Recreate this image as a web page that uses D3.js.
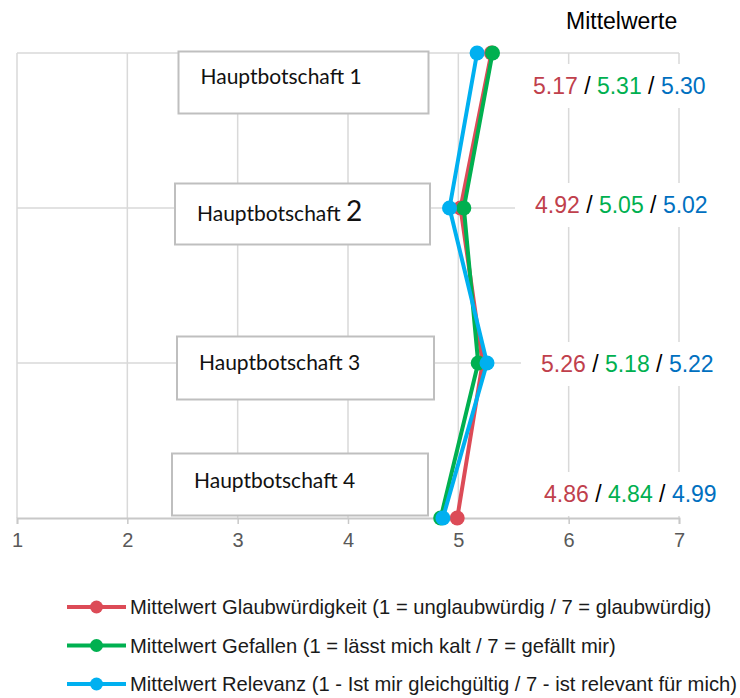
<!DOCTYPE html>
<html>
<head>
<meta charset="utf-8">
<script src="https://cdn.jsdelivr.net/npm/d3@7"></script>
<style>
  html, body { margin: 0; padding: 0; background: #ffffff; }
  svg { display: block; }
</style>
</head>
<body>
<svg id="chart" width="740" height="698"></svg>
<script>
// Messages rated on a 1–7 scale
const categories = ["Hauptbotschaft 1", "Hauptbotschaft 2", "Hauptbotschaft 3", "Hauptbotschaft 4"];
const glaubwuerdigkeit = [5.30, 5.02, 5.22, 4.99];
const gefallen = [5.31, 5.05, 5.18, 4.84];
const relevanz = [5.17, 4.92, 5.26, 4.86];
const xTicks = [1, 2, 3, 4, 5, 6, 7];

const seriesNames = [
  "Mittelwert Glaubwürdigkeit (1 = unglaubwürdig / 7 = glaubwürdig)",
  "Mittelwert Gefallen (1 = lässt mich kalt / 7 = gefällt mir)",
  "Mittelwert Relevanz (1 - Ist mir gleichgültig / 7 - ist relevant für mich)"
];
const headerText = "Mittelwerte";

// line colours and value-label colours
const lineColors = ["#dc4b57", "#00b050", "#00b0f0"];
const labelColors = ["#c0404c", "#00b050", "#0070c0"];

const series = [
  { name: seriesNames[0], values: glaubwuerdigkeit, color: lineColors[0] },
  { name: seriesNames[1], values: gefallen, color: lineColors[1] },
  { name: seriesNames[2], values: relevanz, color: lineColors[2] }
];

// value labels list the three means per message (order as printed)
const labelParts = [
  { values: relevanz, color: labelColors[0] },
  { values: gefallen, color: labelColors[1] },
  { values: glaubwuerdigkeit, color: labelColors[2] }
];

// layout of the callout boxes and value labels, relative to each row
const boxLayout = [
  { x: 178.5, dy: -1.5, w: 250, h: 62, tx: 22, ty: 32 },
  { x: 175, dy: -24.5, w: 255, h: 61, tx: 22, ty: 37 },
  { x: 177, dy: -26.5, w: 257, h: 63, tx: 22, ty: 33 },
  { x: 172, dy: -64.5, w: 256, h: 62, tx: 22, ty: 34 }
];
const valueLayout = [
  { x: 533, dy: 41 },
  { x: 535, dy: 5 },
  { x: 541, dy: 9 },
  { x: 544, dy: -16 }
];

const svg = d3.select("#chart");
const plotLeft = 17, plotRight = 679, plotTop = 53, plotBottom = 518;

const x = d3.scaleLinear().domain([1, 7]).range([plotLeft, plotRight]);
const y = d3.scalePoint().domain(categories).range([plotTop, plotBottom]);

const gridColor = "#d9d9d9";

// vertical grid
svg.append("g").selectAll("line").data(xTicks).join("line")
  .attr("x1", d => x(d)).attr("x2", d => x(d))
  .attr("y1", plotTop).attr("y2", plotBottom)
  .attr("stroke", gridColor).attr("stroke-width", 1.5);

// horizontal grid
svg.append("g").selectAll("line").data(categories.slice(0, -1)).join("line")
  .attr("x1", plotLeft).attr("x2", plotRight)
  .attr("y1", d => y(d)).attr("y2", d => y(d))
  .attr("stroke", gridColor).attr("stroke-width", 1.5);

// x axis
const xAxis = svg.append("g")
  .attr("transform", `translate(0,${plotBottom})`)
  .call(d3.axisBottom(x).tickValues(xTicks).tickFormat(d3.format("d")).tickSize(6).tickPadding(9));
xAxis.select(".domain").attr("stroke", "#c8c8c8").attr("stroke-width", 1.8);
xAxis.selectAll(".tick line").attr("stroke", "#c8c8c8").attr("stroke-width", 1.5);
xAxis.selectAll(".tick text")
  .attr("fill", "#595959")
  .style("font-family", "'Liberation Sans', Arial, sans-serif")
  .style("font-size", "20px");

// value labels with white backing
const fmt = d3.format(".2f");
const valueGroup = svg.append("g");
categories.forEach((c, i) => {
  const L = valueLayout[i];
  const baseY = y(c) + L.dy;
  const g = valueGroup.append("g");
  const rect = g.append("rect").attr("fill", "#ffffff");
  const t = g.append("text")
    .attr("x", L.x).attr("y", baseY)
    .style("font-family", "'Liberation Sans', Arial, sans-serif")
    .style("font-size", "23px");
  labelParts.forEach((p, k) => {
    if (k > 0) t.append("tspan").attr("fill", "#000000").text(" / ");
    t.append("tspan").attr("fill", p.color).text(fmt(p.values[i]));
  });
  const w = t.node().getComputedTextLength();
  rect.attr("x", L.x - 20).attr("y", baseY - 30).attr("width", w + 32).attr("height", 44);
});

// header
svg.append("text")
  .attr("x", 566).attr("y", 29)
  .style("font-family", "'Liberation Sans', Arial, sans-serif")
  .style("font-size", "23px")
  .attr("fill", "#000000")
  .text(headerText);

// callout boxes with message names
const boxGroup = svg.append("g");
categories.forEach((c, i) => {
  const B = boxLayout[i];
  const by = y(c) + B.dy;
  boxGroup.append("rect")
    .attr("x", B.x).attr("y", by).attr("width", B.w).attr("height", B.h)
    .attr("fill", "#ffffff").attr("stroke", "#bfbfbf").attr("stroke-width", 2);
  const parts = c.split(" ");
  const t = boxGroup.append("text")
    .attr("x", B.x + B.tx).attr("y", by + B.ty)
    .style("font-family", "Lato, 'Open Sans', sans-serif")
    .style("font-size", "21px")
    .attr("fill", "#111111");
  t.append("tspan").text(parts[0] + " ");
  t.append("tspan").style("font-size", i === 1 ? "28px" : "21px").text(parts[1]);
});

// lines and markers
const line = d3.line().x(d => x(d.v)).y(d => y(d.c));
const lineGroup = svg.append("g");
series.forEach(s => {
  const pts = categories.map((c, i) => ({ c, v: s.values[i] }));
  lineGroup.append("path")
    .datum(pts)
    .attr("d", line)
    .attr("fill", "none")
    .attr("stroke", s.color)
    .attr("stroke-width", 4)
    .attr("stroke-linejoin", "round");
  lineGroup.selectAll(null).data(pts).join("circle")
    .attr("cx", d => x(d.v)).attr("cy", d => y(d.c))
    .attr("r", 7.5)
    .attr("fill", s.color);
});

// legend
const legend = svg.append("g");
const legendY = [607, 645.5, 684];
series.forEach((s, i) => {
  const g = legend.append("g").attr("transform", `translate(0,${legendY[i]})`);
  g.append("line").attr("x1", 67).attr("x2", 126).attr("y1", 0).attr("y2", 0)
    .attr("stroke", s.color).attr("stroke-width", 4);
  g.append("circle").attr("cx", 96.5).attr("cy", 0).attr("r", 6.5).attr("fill", s.color);
  g.append("text").attr("x", 130).attr("y", 7)
    .style("font-family", "'Liberation Sans', Arial, sans-serif")
    .style("font-size", "20.2px")
    .attr("fill", "#1a1a1a")
    .text(s.name);
});
</script>
</body>
</html>
